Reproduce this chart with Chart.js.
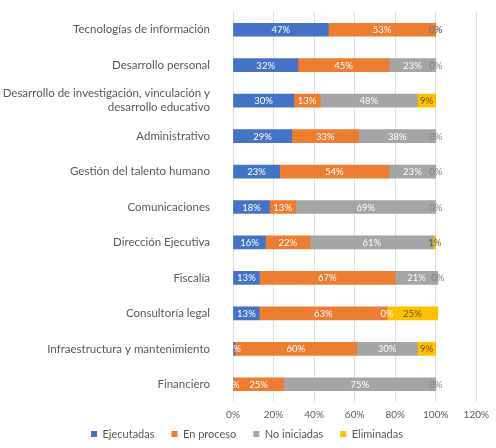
<!DOCTYPE html>
<html>
<head>
<meta charset="utf-8">
<script src="https://cdn.jsdelivr.net/npm/chart.js@4.4.0/dist/chart.umd.min.js"></script>
<style>
  html, body { margin: 0; padding: 0; background: #fff; }
  #wrap { width: 496px; height: 448px; }
</style>
</head>
<body>
<div id="wrap"><canvas id="chart" width="496" height="448"></canvas></div>
<script>
// categories, top to bottom
var areas = [
    "Tecnologías de información",
    "Desarrollo personal",
    ["Desarrollo de investigación, vinculación y", "desarrollo educativo"],
    "Administrativo",
    "Gestión del talento humano",
    "Comunicaciones",
    "Dirección Ejecutiva",
    "Fiscalía",
    "Consultoría legal",
    "Infraestructura y mantenimiento",
    "Financiero"
]
// series (%)
var ejecutadas  = [47, 32, 30, 29, 23, 18, 16, 13, 13, 1, 0]
var enProceso   = [53, 45, 13, 33, 54, 13, 22, 67, 63, 60, 25]
var noIniciadas = [0, 23, 48, 38, 23, 69, 61, 21, 0, 30, 75]
var eliminadas  = [0, 0, 9, 0, 0, 0, 1, 0, 25, 9, 0]
var xTicks = [0, 20, 40, 60, 80, 100, 120]

var FONT = "Lato, 'Open Sans', sans-serif"
var GREY_TXT = "#595959"
var LEGEND_Y = 435

var segLabels = {
    id: "segLabels",
    beforeLayout: function (chart) {
        // short legend, drawn a bit higher so it sits close under the axis
        var lg = chart.legend
        if (lg && !lg._short) {
            var fit = lg.fit
            var draw = lg.draw
            lg.fit = function () {
                fit.call(this)
                this.height = 27
            }
            lg.draw = function () {
                var top = this.top, h = this.height
                var dy = LEGEND_Y - (top + this.options.labels.padding + 6.5)
                this.top = top + dy
                this.height = h - dy
                draw.call(this)
                this.top = top
                this.height = h
            }
            lg._short = true
        }
    },
    // value labels in the middle of each segment
    afterDatasetsDraw: function (chart) {
        var ctx = chart.ctx
        ctx.save()
        ctx.font = "9.5px " + FONT
        ctx.textAlign = "center"
        ctx.textBaseline = "middle"
        chart.data.datasets.forEach(function (ds, di) {
            var meta = chart.getDatasetMeta(di)
            meta.data.forEach(function (bar, i) {
                var v = ds.data[i]
                var cx = (bar.x + bar.base) / 2
                var color = "#ffffff"
                if (di === 3) color = "#6b5a1e"
                if (v === 0 && bar.x > chart.scales.x.getPixelForValue(98)) color = "#7f7f7f"
                ctx.fillStyle = color
                ctx.fillText(v + "%", cx, bar.y + 0.5)
            })
        })
        ctx.restore()
    }
}

var config = {
    type: "bar",
    data: {
        labels: areas,
        datasets: [
            { label: "Ejecutadas", data: ejecutadas, backgroundColor: "#4472C4" },
            { label: "En proceso", data: enProceso, backgroundColor: "#ED7D31" },
            { label: "No iniciadas", data: noIniciadas, backgroundColor: "#A5A5A5" },
            { label: "Eliminadas", data: eliminadas, backgroundColor: "#FFC000" }
        ]
    },
    options: {
        indexAxis: "y",
        responsive: false,
        animation: false,
        maintainAspectRatio: false,
        layout: { padding: { left: 0, right: 2, top: 12, bottom: 0 } },
        datasets: { bar: { barThickness: 13 } },
        plugins: {
            legend: {
                position: "bottom",
                labels: {
                    boxWidth: 6, boxHeight: 6, padding: 17,
                    color: GREY_TXT,
                    font: { family: FONT, size: 11 }
                }
            },
            tooltip: { enabled: false }
        },
        scales: {
            x: {
                stacked: true,
                min: 0, max: 120,
                afterBuildTicks: function (axis) {
                    axis.ticks = xTicks.map(function (v) { return { value: v } })
                },
                afterFit: function (axis) { axis.height = 19 },
                ticks: {
                    color: GREY_TXT,
                    font: { family: FONT, size: 10 },
                    padding: 7,
                    callback: function (v) { return v + "%" }
                },
                grid: { color: "#dedede", drawTicks: false, tickLength: 0 },
                border: { display: false }
            },
            y: {
                stacked: true,
                afterFit: function (axis) {
                    axis.width = 233
                    axis.paddingTop = 0
                    axis.paddingBottom = 0
                },
                ticks: {
                    color: GREY_TXT,
                    font: { family: FONT, size: 11.5 },
                    padding: 15
                },
                grid: { display: false },
                border: { display: false }
            }
        }
    },
    plugins: [segLabels]
}

var CHART = new Chart(document.getElementById("chart"), config)
</script>
</body>
</html>
